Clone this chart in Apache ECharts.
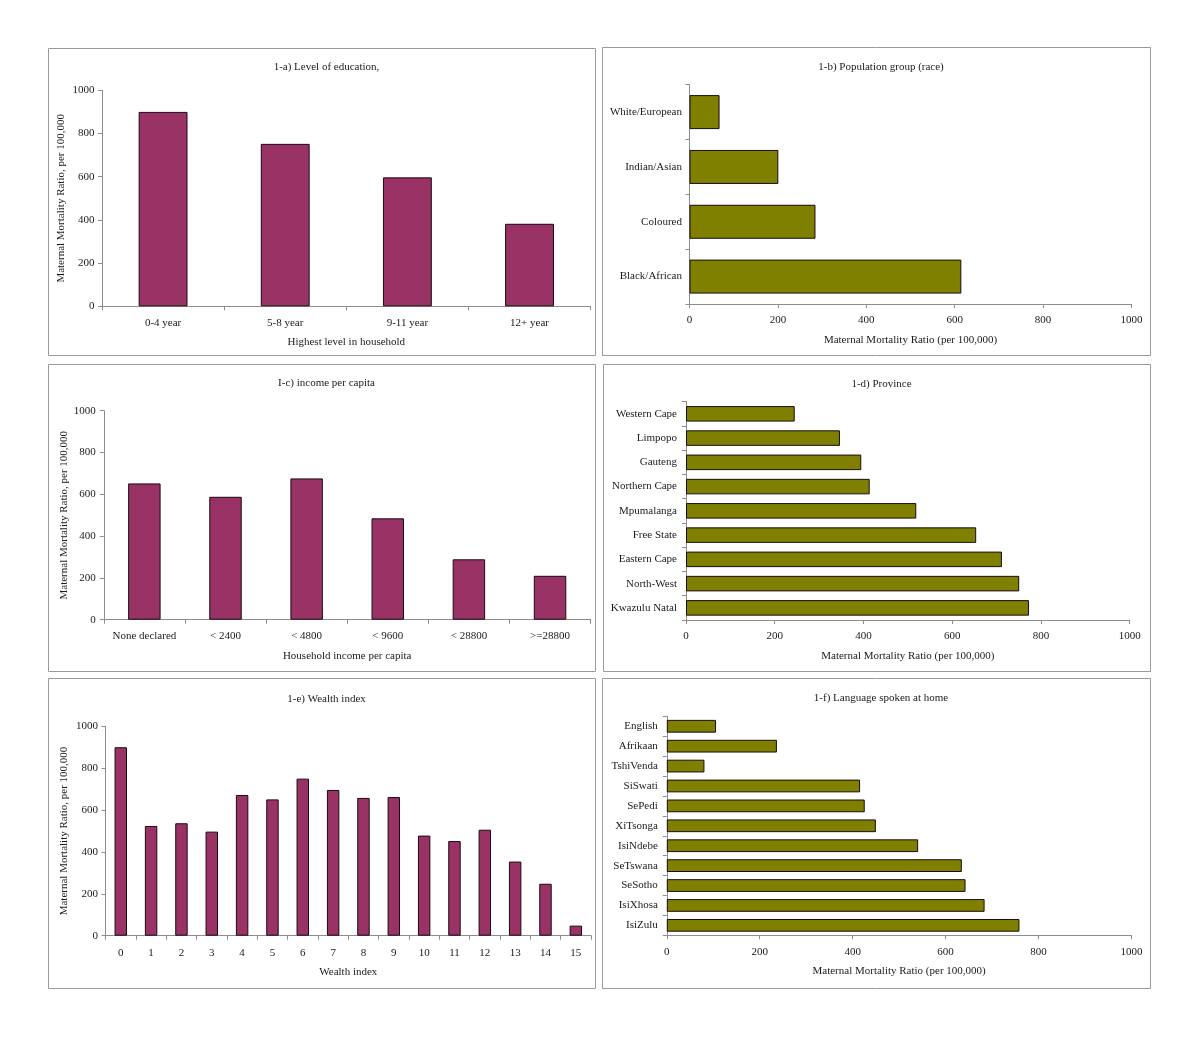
<!DOCTYPE html>
<html>
<head>
<meta charset="utf-8">
<script src="https://cdn.jsdelivr.net/npm/echarts@6/dist/echarts.min.js"></script>
<style>
html,body{margin:0;padding:0;background:#fff;}
#chart{width:1200px;height:1055px;}
</style>
</head>
<body>
<div id="chart"></div>
<script>
// ---- data ----
const eduCats = ['0-4 year', '5-8 year', '9-11 year', '12+ year'];
const eduVals = [900, 752, 597, 382];

const raceCats = ['Black/African', 'Coloured', 'Indian/Asian', 'White/European'];
const raceVals = [615, 285, 201, 68];

const incomeCats = ['None declared', '< 2400', '< 4800', '< 9600', '< 28800', '>=28800'];
const incomeVals = [652, 588, 676, 485, 289, 210];

const provCats = ['Kwazulu Natal', 'North-West', 'Eastern Cape', 'Free State', 'Mpumalanga', 'Northern Cape', 'Gauteng', 'Limpopo', 'Western Cape'];
const provVals = [773, 751, 712, 654, 519, 414, 395, 347, 245];

const wealthCats = ['0', '1', '2', '3', '4', '5', '6', '7', '8', '9', '10', '11', '12', '13', '14', '15'];
const wealthVals = [900, 524, 537, 497, 672, 651, 750, 696, 658, 662, 478, 452, 506, 354, 248, 48];

const langCats = ['IsiZulu', 'IsiXhosa', 'SeSotho', 'SeTswana', 'IsiNdebe', 'XiTsonga', 'SePedi', 'SiSwati', 'TshiVenda', 'Afrikaan', 'English'];
const langVals = [759, 684, 643, 635, 541, 450, 426, 416, 81, 237, 106];

const titles = ['1-a) Level of education,', '1-b) Population group (race)', 'I-c) income per capita',
  '1-d) Province', '1-e) Wealth index', '1-f) Language spoken at home'];
const vName = 'Maternal Mortality Ratio, per 100,000';
const hName = 'Maternal Mortality Ratio (per 100,000)';
const axisMin = 0, axisMax = 1000, axisStep = 200;

// ---- styling ----
const FONT = '"Liberation Serif", "Times New Roman", serif';
const TXT = '#1a1a1a';
const AXC = '#8c8c8c';
const PURPLE = '#993366';
const OLIVE = '#808000';

const panels = [
  {box: [48, 48, 547, 307]},
  {box: [602, 47, 548, 308]},
  {box: [48, 364, 547, 307]},
  {box: [603, 364, 547, 307]},
  {box: [48, 678, 547, 310]},
  {box: [602, 678, 548, 310]}
];
const titleY = [57, 57, 373, 374, 689, 688];

const grids = [
  {left: 102, top: 90.3, width: 488.6, height: 216},
  {left: 689.5, top: 84.7, width: 442, height: 219.3},
  {left: 103.8, top: 410.7, width: 486.8, height: 209},
  {left: 686, top: 401.7, width: 443.7, height: 218.3},
  {left: 105.6, top: 726.3, width: 485.4, height: 209.4},
  {left: 666.8, top: 716.3, width: 464.6, height: 219}
];

const lineStyle = {color: AXC, width: 1};
const labelStyle = {color: TXT, fontFamily: FONT, fontSize: 11};
const nameStyle = {color: TXT, fontFamily: FONT, fontSize: 11, verticalAlign: 'middle'};
const plainNum = v => String(v);

function valueAxis(gi, opts) {
  return Object.assign({
    type: 'value', gridIndex: gi, min: axisMin, max: axisMax, interval: axisStep,
    axisLine: {show: true, lineStyle: lineStyle},
    axisTick: {show: true, length: 4, lineStyle: lineStyle},
    splitLine: {show: false},
    nameLocation: 'middle', nameTextStyle: nameStyle
  }, opts || {});
}
function valLabel(margin) {
  return Object.assign({margin: margin, formatter: plainNum}, labelStyle);
}
function catAxis(gi, cats, opts) {
  return Object.assign({
    type: 'category', gridIndex: gi, data: cats,
    axisLine: {show: true, lineStyle: lineStyle},
    axisTick: {show: true, length: 4, alignWithLabel: false, lineStyle: lineStyle, interval: 0},
    nameLocation: 'middle', nameTextStyle: nameStyle
  }, opts || {});
}
function catLabel(margin) {
  return Object.assign({margin: margin, interval: 0}, labelStyle);
}

const xAxes = [
  catAxis(0, eduCats, {name: 'Highest level in household', nameGap: 36, axisLabel: catLabel(11)}),
  valueAxis(1, {name: hName, nameGap: 35.7, axisLabel: valLabel(11)}),
  catAxis(2, incomeCats, {name: 'Household income per capita', nameGap: 36, axisLabel: catLabel(11)}),
  valueAxis(3, {name: hName, nameGap: 36, axisLabel: valLabel(11)}),
  catAxis(4, wealthCats, {name: 'Wealth index', nameGap: 36.3, axisLabel: catLabel(11.5)}),
  valueAxis(5, {name: hName, nameGap: 35.4, axisLabel: valLabel(11)})
];
const yAxes = [
  valueAxis(0, {name: vName, nameGap: 41, nameRotate: 90, axisLabel: valLabel(7.6)}),
  catAxis(1, raceCats, {axisLabel: catLabel(7.5)}),
  valueAxis(2, {name: vName, nameGap: 40, nameRotate: 90, axisLabel: valLabel(8)}),
  catAxis(3, provCats, {axisLabel: catLabel(9)}),
  valueAxis(4, {name: vName, nameGap: 41, nameRotate: 90, axisLabel: valLabel(7.7)}),
  catAxis(5, langCats, {axisLabel: catLabel(9)})
];

function barSeries(i, vals, color, width) {
  return {
    type: 'bar', xAxisIndex: i, yAxisIndex: i, data: vals, barWidth: width,
    itemStyle: {color: color, borderColor: '#1a0a10', borderWidth: 1},
    silent: true, animation: false
  };
}
const series = [
  barSeries(0, eduVals, PURPLE, '40%'),
  barSeries(1, raceVals, OLIVE, '62%'),
  barSeries(2, incomeVals, PURPLE, '40%'),
  barSeries(3, provVals, OLIVE, '64%'),
  barSeries(4, wealthVals, PURPLE, '41%'),
  barSeries(5, langVals, OLIVE, '64%')
];

const titleOpts = titles.map((t, i) => ({
  text: t,
  left: panels[i].box[0] + panels[i].box[2] / 2,
  top: titleY[i],
  textAlign: 'center',
  textStyle: {color: TXT, fontFamily: FONT, fontSize: 11, fontWeight: 'normal'}
}));

const graphics = panels.map(p => ({
  type: 'rect', silent: true,
  shape: {x: p.box[0] + 0.5, y: p.box[1] + 0.5, width: p.box[2], height: p.box[3]},
  style: {fill: null, stroke: '#9a9a9a', lineWidth: 1}
}));

const chart = echarts.init(document.getElementById('chart'), null, {renderer: 'canvas'});
chart.setOption({
  backgroundColor: '#ffffff',
  animation: false,
  title: titleOpts,
  grid: grids,
  xAxis: xAxes,
  yAxis: yAxes,
  series: series,
  graphic: graphics
});
</script>
</body>
</html>
